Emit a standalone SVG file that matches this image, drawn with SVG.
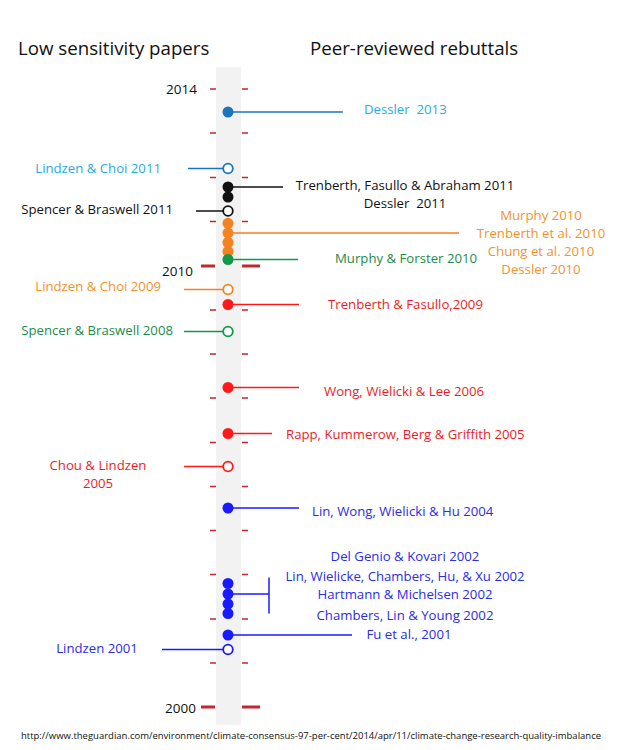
<svg xmlns="http://www.w3.org/2000/svg" width="623" height="750" viewBox="0 0 623 750">
<style>
text{font-family:"Open Sans","Noto Sans",sans-serif;font-size:13.2px}
.t{font-size:18.7px;fill:#111}
.y{font-size:13.5px;fill:#111}
.u{font-size:9.5px;fill:#111}
.p{white-space:pre}
.mt{stroke:#c1272d;stroke-width:1.5}
.Mt{stroke:#c1272d;stroke-width:3}
.lb{fill:#29abe2}.k{fill:#111}.o{fill:#f7912a}.g{fill:#1e8a4a}.r{fill:#ee1c25}.b{fill:#2b2bea}
.e{stroke-width:1.8;fill:#fff}
</style>
<rect width="623" height="750" fill="#fff"/>
<rect x="216" y="67" width="25" height="658" fill="#f2f2f2"/>
<text class="t" x="18" y="55">Low sensitivity papers</text>
<text class="t" x="310" y="55">Peer-reviewed rebuttals</text>
<g id="axis">
<line class="mt" x1="210" y1="89" x2="216" y2="89"/><line class="mt" x1="242" y1="89" x2="248" y2="89"/>
<line class="mt" x1="210" y1="133" x2="216" y2="133"/><line class="mt" x1="242" y1="133" x2="248" y2="133"/>
<line class="mt" x1="210" y1="177.5" x2="216" y2="177.5"/><line class="mt" x1="242" y1="177.5" x2="248" y2="177.5"/>
<line class="mt" x1="210" y1="221.5" x2="216" y2="221.5"/><line class="mt" x1="242" y1="221.5" x2="248" y2="221.5"/>
<line class="Mt" x1="201" y1="266" x2="215" y2="266"/><line class="Mt" x1="242" y1="266" x2="260" y2="266"/>
<line class="mt" x1="210" y1="310" x2="216" y2="310"/><line class="mt" x1="242" y1="310" x2="248" y2="310"/>
<line class="mt" x1="210" y1="354" x2="216" y2="354"/><line class="mt" x1="242" y1="354" x2="248" y2="354"/>
<line class="mt" x1="210" y1="398" x2="216" y2="398"/><line class="mt" x1="242" y1="398" x2="248" y2="398"/>
<line class="mt" x1="210" y1="442.5" x2="216" y2="442.5"/><line class="mt" x1="242" y1="442.5" x2="248" y2="442.5"/>
<line class="mt" x1="210" y1="486.5" x2="216" y2="486.5"/><line class="mt" x1="242" y1="486.5" x2="248" y2="486.5"/>
<line class="mt" x1="210" y1="530.5" x2="216" y2="530.5"/><line class="mt" x1="242" y1="530.5" x2="248" y2="530.5"/>
<line class="mt" x1="210" y1="574.5" x2="216" y2="574.5"/><line class="mt" x1="242" y1="574.5" x2="248" y2="574.5"/>
<line class="mt" x1="210" y1="619" x2="216" y2="619"/><line class="mt" x1="242" y1="619" x2="248" y2="619"/>
<line class="mt" x1="210" y1="663" x2="216" y2="663"/><line class="mt" x1="242" y1="663" x2="248" y2="663"/>
<line class="Mt" x1="201" y1="707" x2="215" y2="707"/><line class="Mt" x1="242" y1="707" x2="260" y2="707"/>
<text class="y" x="197" y="94" text-anchor="end">2014</text>
<text class="y" x="193" y="276" text-anchor="end">2010</text>
<text class="y" x="196" y="713" text-anchor="end">2000</text>
</g>
<g id="connectors" stroke-width="1.5" fill="none">
<line x1="228" y1="112" x2="343" y2="112" stroke="#1b75bc"/>
<line x1="188" y1="168.5" x2="228" y2="168.5" stroke="#1b75bc"/>
<line x1="228" y1="187" x2="283" y2="187" stroke="#111"/>
<line x1="196" y1="211" x2="228" y2="211" stroke="#111"/>
<line x1="228" y1="233" x2="459" y2="233" stroke="#f58220"/>
<line x1="228" y1="259.5" x2="298" y2="259.5" stroke="#0e9a4a"/>
<line x1="184" y1="289.5" x2="228" y2="289.5" stroke="#f58220"/>
<line x1="228" y1="304.5" x2="299" y2="304.5" stroke="#ff1a1a"/>
<line x1="184" y1="331.5" x2="228" y2="331.5" stroke="#0e9a4a"/>
<line x1="228" y1="387.5" x2="299" y2="387.5" stroke="#ff1a1a"/>
<line x1="228" y1="433.5" x2="272" y2="433.5" stroke="#ff1a1a"/>
<line x1="184" y1="466.5" x2="228" y2="466.5" stroke="#ff1a1a"/>
<line x1="228" y1="508" x2="299" y2="508" stroke="#1a1aff"/>
<line x1="228" y1="594" x2="269" y2="594" stroke="#1a1aff"/>
<line x1="269" y1="577.5" x2="269" y2="613.5" stroke="#1a1aff"/>
<line x1="228" y1="635" x2="352" y2="635" stroke="#1a1aff"/>
<line x1="162" y1="649.5" x2="228" y2="649.5" stroke="#1a1aff"/>
</g>
<g id="n-dessler2013"><circle cx="228" cy="112" r="5.5" fill="#1b75bc"/><text class="lb p" x="364" y="114">Dessler  2013</text></g>
<g id="n-lindzenchoi2011"><circle class="e" cx="228" cy="168.5" r="4.8" stroke="#1b75bc"/><text class="lb" x="161" y="173" text-anchor="end">Lindzen &amp; Choi 2011</text></g>
<g id="n-trenberth2011"><circle cx="228" cy="187" r="5.5" fill="#111"/><circle cx="228" cy="197" r="5.5" fill="#111"/>
<text class="k" x="405" y="190" text-anchor="middle">Trenberth, Fasullo &amp; Abraham 2011</text>
<text class="k p" x="405" y="208" text-anchor="middle">Dessler  2011</text></g>
<g id="n-spencer2011"><circle class="e" cx="228" cy="211" r="4.8" stroke="#111"/><text class="k" x="173" y="214" text-anchor="end">Spencer &amp; Braswell 2011</text></g>
<g id="n-orange2010"><circle cx="228" cy="223.3" r="5.5" fill="#f58220"/><circle cx="228" cy="233" r="5.5" fill="#f58220"/><circle cx="228" cy="242.5" r="5.5" fill="#f58220"/><circle cx="228" cy="251.5" r="5.5" fill="#f58220"/>
<text class="o" x="541" y="220" text-anchor="middle">Murphy 2010</text>
<text class="o" x="541" y="238" text-anchor="middle">Trenberth et al. 2010</text>
<text class="o" x="541" y="256" text-anchor="middle">Chung et al. 2010</text>
<text class="o" x="541" y="274" text-anchor="middle">Dessler 2010</text></g>
<g id="n-murphyforster2010"><circle cx="228" cy="259.5" r="5.5" fill="#0e9a4a"/><text class="g" x="335" y="263">Murphy &amp; Forster 2010</text></g>
<g id="n-lindzenchoi2009"><circle class="e" cx="228" cy="289.5" r="4.8" stroke="#f58220"/><text class="o" x="161" y="291" text-anchor="end">Lindzen &amp; Choi 2009</text></g>
<g id="n-trenberthfasullo2009"><circle cx="228" cy="304.5" r="5.5" fill="#ff1a1a"/><text class="r" x="328" y="309">Trenberth &amp; Fasullo,2009</text></g>
<g id="n-spencer2008"><circle class="e" cx="228" cy="331.5" r="4.8" stroke="#0e9a4a"/><text class="g" x="173" y="335" text-anchor="end">Spencer &amp; Braswell 2008</text></g>
<g id="n-wong2006"><circle cx="228" cy="387.5" r="5.5" fill="#ff1a1a"/><text class="r" x="324" y="396">Wong, Wielicki &amp; Lee 2006</text></g>
<g id="n-rapp2005"><circle cx="228" cy="433.5" r="5.5" fill="#ff1a1a"/><text class="r" x="286" y="439">Rapp, Kummerow, Berg &amp; Griffith 2005</text></g>
<g id="n-chou2005"><circle class="e" cx="228" cy="466.5" r="4.8" stroke="#ff1a1a"/>
<text class="r" x="98" y="470" text-anchor="middle">Chou &amp; Lindzen</text>
<text class="r" x="98" y="488" text-anchor="middle">2005</text></g>
<g id="n-lin2004"><circle cx="228" cy="508" r="5.5" fill="#1a1aff"/><text class="b" x="312" y="516">Lin, Wong, Wielicki &amp; Hu 2004</text></g>
<g id="n-blue2002"><circle cx="228" cy="583.5" r="5.5" fill="#1a1aff"/><circle cx="228" cy="594" r="5.5" fill="#1a1aff"/><circle cx="228" cy="604" r="5.5" fill="#1a1aff"/><circle cx="228" cy="613.5" r="5.5" fill="#1a1aff"/>
<text class="b" x="405" y="561" text-anchor="middle">Del Genio &amp; Kovari 2002</text>
<text class="b" x="405" y="581" text-anchor="middle">Lin, Wielicke, Chambers, Hu, &amp; Xu 2002</text>
<text class="b" x="405" y="599" text-anchor="middle">Hartmann &amp; Michelsen 2002</text>
<text class="b" x="405" y="620" text-anchor="middle">Chambers, Lin &amp; Young 2002</text></g>
<g id="n-fu2001"><circle cx="228" cy="635" r="5.5" fill="#1a1aff"/><text class="b" x="409" y="639" text-anchor="middle">Fu et al., 2001</text></g>
<g id="n-lindzen2001"><circle class="e" cx="228" cy="649.5" r="4.8" stroke="#1a1aff"/><text class="b" x="97" y="653" text-anchor="middle">Lindzen 2001</text></g>
<text class="u" x="311" y="739" text-anchor="middle">http://www.theguardian.com/environment/climate-consensus-97-per-cent/2014/apr/11/climate-change-research-quality-imbalance</text>
</svg>
